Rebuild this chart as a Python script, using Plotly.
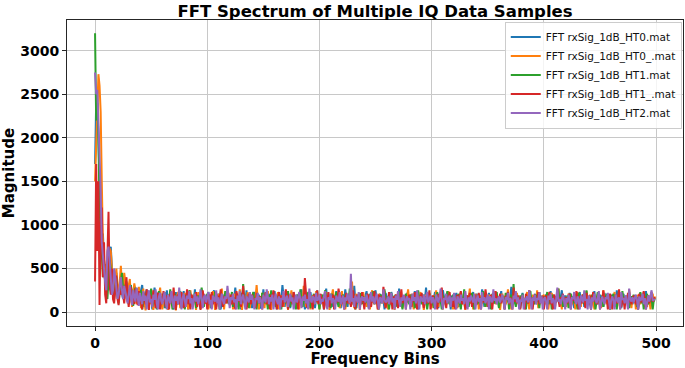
import plotly.graph_objects as go

series_names = [
    "FFT rxSig_1dB_HT0.mat",
    "FFT rxSig_1dB_HT0_.mat",
    "FFT rxSig_1dB_HT1.mat",
    "FFT rxSig_1dB_HT1_.mat",
    "FFT rxSig_1dB_HT2.mat",
]
series_colors = ["#1f77b4", "#ff7f0e", "#2ca02c", "#d62728", "#9467bd"]

x_ticks = [0, 100, 200, 300, 400, 500]
y_ticks = [0, 500, 1000, 1500, 2000, 2500, 3000]

mag_ht0 = [
    1700, 2400, 2500, 1900, 1500, 1000, 700, 900, 600, 420, 550, 300, 250, 700, 750, 420, 300, 200, 350, 450,
    250, 150, 300, 400, 210, 150, 260, 350, 200, 120, 280, 330, 180, 90, 240, 300, 160, 110, 270, 210,
    130, 250, 310, 170, 60, 200, 260, 140, 95, 230, 180, 30, 150, 280, 200, 110, 170, 240, 90, 130,
    210, 160, 45, 190, 250, 120, 85, 220, 170, 100, 30, 180, 230, 140, 90, 160, 200, 45, 130, 240,
    150, 100, 190, 30, 140, 220, 170, 60, 120, 260, 130, 90, 200, 150, 35, 170, 210, 110, 140, 180,
    95, 230, 160, 45, 130, 190, 250, 120, 60, 170, 210, 140, 30, 150, 200, 100, 180, 130, 240, 90,
    160, 110, 210, 45, 150, 280, 130, 90, 190, 140, 30, 220, 170, 100, 130, 250, 60, 160, 200, 120,
    45, 180, 230, 150, 100, 140, 200, 40, 170, 120, 260, 140, 90, 190, 150, 60, 210, 130, 170, 100,
    240, 120, 30, 160, 200, 90, 150, 310, 130, 60, 180, 220, 110, 150, 45, 190, 140, 230, 100, 160,
    130, 200, 85, 150, 260, 110, 170, 30, 140, 210, 160, 90, 230, 130, 180, 100, 45, 150, 250, 120,
    170, 90, 200, 140, 30, 180, 270, 130, 100, 160, 210, 60, 140, 190, 120, 240, 90, 160, 130, 45,
    200, 150, 110, 260, 140, 60, 170, 220, 130, 90, 150, 300, 120, 45, 180, 140, 210, 100, 160, 130,
    90, 190, 240, 120, 160, 45, 140, 200, 110, 170, 250, 130, 85, 150, 210, 100, 180, 140, 30, 220,
    140, 110, 180, 90, 230, 160, 120, 45, 200, 150, 100, 270, 130, 170, 60, 140, 190, 110, 220, 160,
    120, 200, 60, 150, 170, 240, 100, 140, 30, 190, 130, 210, 160, 90, 150, 280, 120, 170, 100, 140,
    180, 90, 150, 230, 120, 160, 45, 200, 140, 110, 250, 130, 90, 170, 210, 120, 150, 30, 190, 140,
    100, 170, 220, 130, 60, 160, 190, 110, 150, 240, 120, 45, 180, 140, 200, 100, 160, 230, 90, 150,
    210, 130, 90, 170, 140, 260, 110, 60, 190, 150, 120, 220, 160, 45, 140, 180, 100, 200, 130, 170,
    90, 150, 240, 120, 180, 30, 160, 210, 130, 100, 170, 290, 140, 90, 200, 150, 110, 180, 130, 45,
    160, 220, 110, 140, 60, 190, 150, 250, 120, 170, 100, 140, 210, 90, 160, 130, 230, 110, 180, 140,
    60, 170, 200, 130, 150, 100, 240, 140, 45, 180, 160, 110, 210, 140, 90, 170, 250, 120, 150, 190,
    130, 90, 160, 220, 110, 180, 140, 45, 200, 150, 120, 170, 230, 100, 140, 190, 60, 160, 210, 130,
    170, 120, 30, 190, 150, 240, 110, 160, 90, 140, 200, 130, 170, 60, 220, 150, 110, 180, 140, 100,
    200, 140, 170, 90, 130, 250, 120, 160, 190, 45, 150, 210, 110, 140, 180, 100, 230, 130, 160, 90,
    150, 190, 110, 170, 30, 140, 220, 130, 180, 100, 160, 240, 120, 90, 170, 150, 200, 110, 140, 130,
]

mag_ht0_ = [
    1500, 2000, 2300, 2730, 2600, 2300, 1500, 800, 600, 500, 350, 300, 600, 730, 700, 400, 300, 250, 400, 500,
    300, 200, 350, 530, 300, 200, 450, 350, 200, 140, 300, 380, 150, 60, 210, 330, 250, 90, 180, 290,
    200, 45, 160, 270, 120, 20, 190, 230, 150, 90, 260, 140, 25, 170, 220, 110, 60, 200, 280, 130,
    30, 150, 210, 100, 180, 25, 130, 240, 160, 90, 200, 120, 20, 170, 230, 140, 45, 190, 110, 160,
    220, 90, 140, 30, 190, 250, 120, 60, 160, 200, 25, 150, 230, 110, 170, 45, 140, 210, 100, 180,
    130, 30, 200, 160, 90, 240, 140, 25, 180, 120, 210, 60, 150, 270, 110, 30, 190, 140, 100, 220,
    150, 90, 170, 30, 210, 130, 190, 60, 140, 260, 110, 25, 170, 200, 130, 90, 230, 150, 45, 180,
    120, 200, 90, 160, 310, 140, 30, 180, 130, 220, 100, 45, 190, 150, 240, 110, 160, 25, 140, 200,
    90, 170, 130, 230, 30, 150, 190, 110, 60, 210, 160, 130, 25, 180, 140, 250, 100, 170, 120, 45,
    190, 140, 30, 220, 160, 100, 300, 130, 60, 170, 210, 120, 30, 150, 190, 90, 140, 240, 110, 170,
    30, 200, 150, 120, 60, 180, 230, 110, 160, 25, 140, 190, 260, 120, 90, 170, 130, 210, 45, 150,
    240, 100, 170, 30, 140, 200, 130, 90, 180, 350, 120, 45, 160, 210, 110, 150, 25, 190, 140, 230,
    110, 160, 60, 200, 140, 30, 170, 250, 120, 90, 190, 150, 30, 210, 130, 170, 100, 140, 240, 60,
    170, 30, 150, 220, 110, 180, 130, 25, 200, 160, 90, 140, 230, 120, 45, 190, 150, 100, 170, 260,
    130, 90, 210, 140, 30, 170, 120, 190, 60, 150, 230, 110, 160, 25, 140, 200, 130, 90, 180, 120,
    45, 160, 190, 110, 250, 130, 60, 170, 140, 210, 30, 150, 120, 180, 90, 240, 140, 110, 160, 30,
    180, 120, 150, 45, 200, 140, 230, 90, 160, 110, 25, 190, 130, 170, 270, 100, 150, 30, 140, 210,
    110, 170, 30, 190, 140, 100, 160, 220, 60, 150, 130, 200, 45, 180, 120, 160, 240, 90, 140, 110,
    160, 25, 140, 210, 120, 180, 90, 150, 260, 110, 170, 30, 140, 190, 100, 150, 220, 130, 60, 170,
    120, 190, 150, 60, 170, 230, 110, 30, 160, 140, 200, 90, 150, 120, 250, 45, 180, 140, 110, 160,
    200, 90, 130, 170, 30, 150, 110, 220, 140, 180, 60, 160, 130, 270, 100, 150, 30, 190, 140, 120,
    60, 150, 210, 120, 170, 90, 140, 190, 30, 160, 230, 110, 150, 60, 200, 130, 170, 100, 240, 140,
    140, 200, 90, 160, 120, 30, 180, 150, 210, 100, 140, 45, 170, 250, 110, 160, 90, 190, 130, 30,
    170, 110, 150, 230, 60, 140, 190, 120, 30, 160, 210, 130, 90, 180, 150, 110, 260, 140, 45, 170,
    120, 180, 30, 150, 200, 130, 90, 170, 140, 230, 100, 160, 60, 190, 150, 30, 140, 210, 120, 180,
]

mag_ht1 = [
    3200, 2200, 2400, 2000, 1200, 900, 700, 400, 500, 300, 200, 150, 400, 600, 500, 300, 200, 150, 300, 400,
    200, 100, 250, 350, 450, 250, 150, 300, 350, 180, 90, 260, 310, 160, 70, 220, 280, 140, 200, 100,
    170, 250, 30, 140, 210, 180, 90, 230, 120, 160, 270, 60, 150, 200, 110, 30, 190, 240, 130, 90,
    180, 120, 230, 45, 150, 200, 100, 260, 140, 30, 170, 210, 120, 90, 190, 150, 240, 60, 130, 170,
    30, 200, 140, 110, 250, 160, 90, 180, 130, 220, 45, 150, 190, 100, 160, 280, 120, 60, 170, 140,
    210, 90, 160, 120, 45, 190, 150, 230, 100, 140, 180, 30, 200, 130, 170, 90, 240, 140, 110, 180,
    100, 150, 230, 60, 170, 120, 200, 140, 30, 190, 160, 110, 320, 130, 90, 180, 150, 45, 210, 140,
    160, 230, 110, 140, 30, 190, 130, 170, 90, 220, 150, 100, 180, 140, 30, 200, 130, 250, 110, 160,
    130, 60, 180, 150, 210, 110, 30, 170, 140, 200, 100, 160, 240, 120, 60, 190, 150, 110, 170, 30,
    200, 140, 110, 260, 130, 60, 170, 150, 100, 190, 230, 120, 45, 160, 140, 210, 90, 150, 180, 120,
    30, 170, 140, 200, 110, 250, 130, 90, 180, 150, 45, 210, 140, 100, 160, 230, 120, 60, 190, 140,
    110, 200, 160, 60, 140, 180, 120, 270, 90, 150, 200, 130, 30, 170, 140, 110, 220, 160, 90, 180,
    150, 100, 190, 130, 45, 210, 160, 120, 240, 90, 140, 180, 110, 30, 170, 200, 130, 150, 260, 100,
    180, 130, 30, 160, 220, 110, 150, 190, 60, 140, 170, 100, 230, 130, 30, 180, 150, 210, 110, 140,
    90, 160, 200, 120, 150, 45, 180, 140, 250, 110, 160, 90, 140, 200, 120, 170, 30, 150, 220, 130,
    160, 110, 45, 190, 140, 230, 100, 160, 130, 30, 200, 150, 110, 180, 240, 120, 90, 170, 140, 200,
    130, 180, 150, 90, 210, 120, 30, 170, 140, 260, 100, 150, 190, 60, 160, 130, 220, 110, 30, 180,
    150, 90, 200, 140, 110, 170, 240, 130, 60, 160, 190, 120, 150, 30, 210, 140, 100, 180, 230, 120,
    45, 160, 130, 190, 150, 100, 220, 140, 170, 30, 150, 200, 110, 320, 130, 60, 170, 150, 120, 190,
    140, 210, 100, 160, 30, 180, 130, 150, 240, 110, 170, 90, 140, 200, 120, 160, 45, 190, 150, 110,
    180, 120, 160, 230, 90, 140, 170, 30, 200, 150, 110, 180, 130, 270, 100, 150, 190, 60, 140, 170,
    120, 190, 45, 150, 210, 130, 160, 100, 180, 140, 30, 220, 150, 110, 170, 200, 90, 140, 250, 120,
    160, 90, 140, 200, 120, 180, 30, 150, 230, 110, 170, 130, 190, 60, 140, 160, 210, 100, 150, 30,
    130, 170, 210, 100, 150, 30, 190, 140, 110, 170, 240, 120, 90, 160, 130, 200, 45, 150, 180, 140,
    200, 110, 150, 60, 170, 140, 230, 100, 160, 30, 180, 130, 210, 90, 150, 120, 170, 30, 140, 160,
]

mag_ht1_ = [
    350, 1700, 700, 1500, 80, 1000, 1200, 400, 800, 200, 100, 600, 1150, 300, 200, 500, 150, 100, 300, 420,
    150, 80, 250, 200, 300, 150, 100, 250, 400, 180, 60, 210, 290, 130, 220, 90, 270, 160, 80, 240,
    190, 110, 30, 230, 170, 90, 260, 140, 25, 200, 150, 100, 250, 120, 45, 180, 220, 130, 30, 170,
    110, 240, 150, 60, 190, 130, 30, 210, 170, 100, 280, 140, 25, 160, 200, 110, 90, 230, 150, 45,
    180, 130, 260, 90, 150, 30, 200, 170, 110, 140, 230, 60, 160, 120, 25, 190, 250, 140, 100, 170,
    30, 150, 200, 120, 230, 90, 170, 140, 30, 200, 110, 160, 260, 130, 60, 180, 150, 100, 210, 140,
    130, 200, 90, 170, 110, 30, 240, 150, 120, 190, 60, 140, 300, 110, 170, 30, 150, 210, 130, 90,
    200, 110, 160, 45, 220, 150, 100, 180, 140, 30, 190, 130, 230, 90, 160, 120, 30, 200, 150, 250,
    100, 170, 30, 150, 230, 130, 190, 60, 140, 110, 260, 160, 30, 200, 120, 170, 90, 230, 140, 110,
    170, 30, 210, 140, 100, 180, 130, 390, 150, 45, 170, 230, 110, 140, 30, 200, 160, 120, 250, 90,
    140, 210, 100, 170, 30, 150, 190, 120, 230, 60, 160, 130, 200, 30, 180, 140, 110, 270, 150, 90,
    190, 120, 30, 160, 220, 100, 150, 180, 60, 140, 250, 130, 30, 170, 200, 110, 160, 90, 230, 140,
    30, 170, 140, 210, 110, 190, 60, 150, 130, 240, 100, 160, 30, 200, 140, 180, 110, 290, 130, 45,
    150, 110, 230, 90, 160, 30, 180, 140, 200, 120, 45, 170, 140, 260, 100, 150, 190, 30, 160, 130,
    200, 140, 60, 170, 120, 230, 150, 30, 190, 110, 160, 220, 130, 45, 150, 180, 100, 140, 250, 30,
    130, 190, 150, 100, 170, 30, 210, 140, 120, 280, 90, 160, 140, 45, 190, 130, 230, 110, 150, 60,
    170, 30, 140, 200, 110, 160, 240, 90, 150, 130, 30, 190, 170, 110, 220, 140, 60, 160, 130, 200,
    90, 150, 220, 130, 30, 180, 140, 110, 260, 150, 60, 170, 120, 200, 30, 160, 140, 240, 100, 180,
    140, 210, 100, 160, 130, 30, 190, 150, 230, 90, 170, 130, 30, 280, 120, 160, 100, 190, 140, 30,
    180, 120, 160, 30, 210, 140, 100, 250, 130, 170, 30, 150, 200, 110, 140, 230, 90, 160, 130, 190,
    30, 150, 190, 120, 170, 230, 90, 140, 30, 200, 160, 110, 260, 130, 60, 170, 150, 210, 100, 140,
    170, 100, 140, 210, 30, 160, 130, 190, 110, 240, 150, 30, 180, 140, 100, 200, 160, 45, 220, 130,
    110, 190, 30, 150, 230, 120, 170, 90, 140, 200, 30, 160, 130, 250, 110, 150, 180, 30, 140, 210,
    150, 30, 170, 130, 200, 100, 140, 260, 120, 60, 170, 150, 30, 190, 140, 220, 110, 160, 90, 140,
    190, 130, 90, 160, 30, 210, 150, 110, 170, 240, 130, 30, 150, 190, 100, 160, 230, 120, 150, 170,
]

mag_ht2 = [
    2750, 2500, 2550, 2200, 1700, 1400, 800, 600, 500, 350, 250, 700, 750, 600, 300, 200, 250, 500, 400, 300,
    150, 200, 350, 400, 250, 150, 300, 250, 170, 100, 230, 310, 160, 80, 250, 190, 120, 280, 140, 70,
    220, 160, 90, 240, 130, 190, 30, 170, 250, 110, 150, 60, 200, 140, 260, 100, 30, 180, 220, 130,
    90, 170, 230, 120, 30, 200, 150, 100, 240, 140, 45, 190, 130, 180, 90, 280, 150, 30, 160, 210,
    130, 60, 190, 150, 240, 100, 160, 30, 140, 210, 120, 180, 90, 150, 260, 130, 45, 170, 200, 110,
    160, 230, 90, 140, 30, 190, 150, 120, 250, 100, 170, 30, 140, 210, 130, 90, 180, 150, 300, 110,
    45, 170, 140, 210, 110, 150, 30, 190, 130, 240, 90, 160, 200, 120, 30, 180, 150, 110, 230, 140,
    190, 120, 30, 160, 140, 220, 100, 170, 130, 30, 200, 150, 110, 260, 140, 90, 170, 120, 200, 30,
    150, 210, 130, 90, 180, 30, 160, 140, 240, 110, 150, 190, 60, 140, 210, 120, 170, 30, 150, 200,
    110, 160, 230, 140, 45, 180, 130, 200, 100, 150, 30, 270, 140, 110, 180, 160, 90, 220, 130, 150,
    200, 90, 150, 120, 180, 240, 110, 30, 170, 140, 210, 100, 160, 130, 30, 190, 150, 120, 230, 90,
    140, 190, 30, 170, 130, 210, 150, 100, 440, 120, 160, 60, 190, 140, 110, 230, 30, 150, 180, 130,
    170, 110, 200, 140, 30, 160, 230, 120, 180, 90, 140, 210, 130, 30, 170, 150, 100, 260, 140, 110,
    130, 180, 90, 150, 220, 110, 160, 30, 190, 140, 240, 120, 60, 170, 130, 200, 150, 30, 180, 140,
    160, 30, 140, 210, 130, 170, 100, 250, 140, 30, 180, 150, 120, 200, 90, 160, 230, 110, 140, 190,
    100, 170, 130, 30, 200, 150, 110, 180, 270, 120, 30, 160, 140, 210, 100, 150, 190, 60, 170, 130,
    220, 140, 30, 180, 150, 100, 200, 130, 160, 90, 240, 140, 30, 170, 120, 190, 150, 110, 210, 30,
    140, 190, 120, 160, 30, 230, 130, 170, 100, 150, 200, 30, 180, 140, 110, 260, 130, 160, 90, 150,
    180, 110, 150, 200, 130, 30, 170, 140, 220, 100, 160, 130, 30, 190, 150, 240, 110, 170, 30, 140,
    130, 200, 30, 160, 140, 180, 110, 250, 150, 30, 170, 130, 200, 90, 160, 140, 230, 100, 180, 30,
    150, 170, 120, 30, 190, 140, 210, 100, 160, 130, 30, 180, 280, 120, 150, 90, 170, 200, 130, 30,
    160, 110, 200, 140, 30, 170, 150, 230, 120, 90, 180, 140, 30, 190, 160, 110, 250, 130, 150, 30,
    190, 140, 30, 170, 120, 210, 150, 100, 160, 240, 30, 140, 180, 130, 90, 170, 150, 220, 110, 30,
    140, 180, 130, 30, 200, 150, 110, 170, 30, 230, 140, 160, 100, 190, 130, 30, 270, 150, 120, 170,
    110, 160, 200, 140, 30, 180, 130, 150, 210, 90, 160, 30, 140, 190, 120, 170, 250, 130, 140, 150,
]

all_series = [mag_ht0, mag_ht0_, mag_ht1, mag_ht1_, mag_ht2]

fig = go.Figure()
for name, color, vals in zip(series_names, series_colors, all_series):
    fig.add_trace(go.Scatter(
        x=list(range(len(vals))), y=vals, mode="lines", name=name,
        line=dict(color=color, width=2),
    ))

axis_common = dict(
    showline=True, linecolor="#262626", linewidth=1, mirror=True,
    ticks="outside", ticklen=4, tickcolor="#262626",
    showgrid=True, gridcolor="#c8c8c8", gridwidth=1, zeroline=False,
    automargin=False,
    tickfont=dict(family="DejaVu Sans", size=14, color="black", weight="bold"),
)

fig.update_layout(
    width=685, height=368,
    margin=dict(l=67, r=2, t=20, b=42, autoexpand=False),
    paper_bgcolor="white", plot_bgcolor="white",
    font=dict(family="DejaVu Sans", color="black"),
    title=dict(
        text="FFT Spectrum of Multiple IQ Data Samples",
        x=0.5, xref="paper", xanchor="center",
        y=1 - 11 / 368, yref="container", yanchor="middle",
        font=dict(family="DejaVu Sans", size=16.5, color="black", weight="bold"),
    ),
    xaxis=dict(
        range=[-25, 524], tickvals=x_ticks,
        title=dict(text="Frequency Bins", standoff=2,
                   font=dict(family="DejaVu Sans", size=15, color="black", weight="bold")),
        **axis_common,
    ),
    yaxis=dict(
        range=[-160, 3352], tickvals=y_ticks,
        title=dict(text="Magnitude", standoff=6,
                   font=dict(family="DejaVu Sans", size=15, color="black", weight="bold")),
        **axis_common,
    ),
    legend=dict(
        x=0.998, xanchor="right", y=0.995, yanchor="top",
        bgcolor="rgba(255,255,255,0.8)", bordercolor="#cccccc", borderwidth=1,
        font=dict(family="DejaVu Sans", size=10.5, color="#111111"),
        tracegroupgap=0, itemwidth=30,
    ),
    showlegend=True,
)

fig.write_html(
    "out.html",
    config={"displayModeBar": False},
    post_script="document.body.style.margin='0';document.body.style.overflow='hidden';",
)
